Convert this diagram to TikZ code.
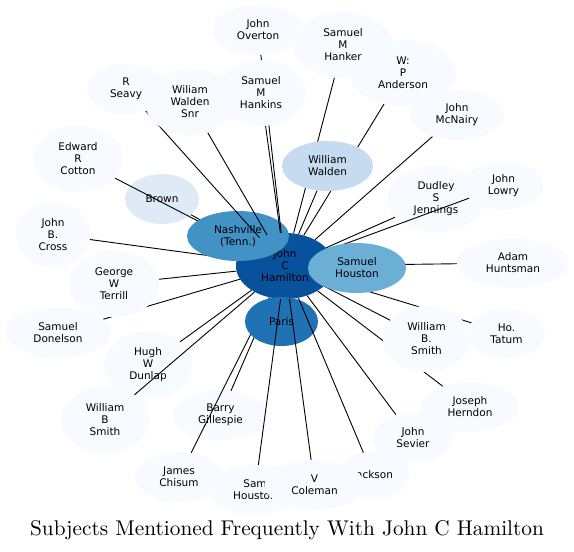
\documentclass[tikz,border=0pt]{standalone}
\usepackage{fontspec}
\usepackage{xcolor}
\usetikzlibrary{shapes.geometric}
\newfontfamily\nodefont{DejaVu Sans}
\newfontfamily\titlefont{lmroman10-regular.otf}
\definecolor{paleblue}{RGB}{247, 251, 255}
\definecolor{mistblue}{RGB}{222, 235, 247}
\definecolor{lightblue}{RGB}{198, 219, 239}
\definecolor{skyblue}{RGB}{107, 174, 214}
\definecolor{midblue}{RGB}{66, 146, 198}
\definecolor{strongblue}{RGB}{33, 113, 181}
\definecolor{deepblue}{RGB}{8, 81, 156}
\pgfdeclarelayer{front}
\pgfsetlayers{main,front}

\begin{document}
\begin{tikzpicture}[x=1pt, y=-1pt,
    subject/.style={ellipse, inner sep=0pt, fill=paleblue, align=center,
                    font=\nodefont\fontsize{10.5}{12}\selectfont},
    link/.style={line width=0.9pt}]
    \useasboundingbox (0,0) rectangle (574,552);

    % subjects drawn over the lines
    \begin{pgfonlayer}{front}
    \node[subject, minimum width=92pt, minimum height=50pt] (overton) at (258,30) {John\\Overton};
    \node[subject, minimum width=90pt, minimum height=66pt] (hankins) at (261,93) {Samuel\\M\\Hankins};
    \node[subject, minimum width=78pt, minimum height=50pt] (seavy) at (126,89) {R\\Seavy};
    \node[subject, minimum width=90pt, minimum height=66pt] (waldensnr) at (190,102) {Wiliam\\Walden\\Snr};
    \node[subject, minimum width=106pt, minimum height=66pt] (anderson) at (403,73) {W:\\P\\Anderson};
    \node[subject, minimum width=100pt, minimum height=66pt] (hanker) at (343,45) {Samuel\\M\\Hanker};
    \node[subject, minimum width=94pt, minimum height=50pt] (mcnairy) at (457,115) {John\\McNairy};
    \node[subject, fill=lightblue, minimum width=91pt, minimum height=50pt] (walden) at (327.5,166) {William\\Walden};
    \node[subject, minimum width=90pt, minimum height=66pt] (cotton) at (78,159) {Edward\\R\\Cotton};
    \node[subject, minimum width=74pt, minimum height=66pt] (cross) at (53,234.5) {John\\B.\\Cross};
    \node[subject, minimum width=90pt, minimum height=66pt] (terrill) at (114,284) {George\\W\\Terrill};
    \node[subject, minimum width=106pt, minimum height=50pt] (donelson) at (58,332.5) {Samuel\\Donelson};
    \node[subject, minimum width=88pt, minimum height=67pt] (wbsmithl) at (105,420) {William\\B\\Smith};
    \node[subject, minimum width=88pt, minimum height=50pt] (chisum) at (179,477) {James\\Chisum};
    \node[subject, minimum width=92pt, minimum height=50pt] (samhouston) at (255,490) {Sam\\Houston};
    \node[subject, minimum width=72pt, minimum height=47pt] (jackson) at (373,475.5) {Jackson};
    \node[subject, minimum width=100pt, minimum height=50pt] (vcoleman) at (314.5,485) {V\\Coleman};
    \node[subject, minimum width=80pt, minimum height=50pt] (sevier) at (413,437.5) {John\\Sevier};
    \node[subject, minimum width=98pt, minimum height=49pt] (herndon) at (470,407) {Joseph\\Herndon};
    \node[subject, minimum width=87pt, minimum height=66pt] (wbsmithr) at (426.5,339) {William\\B.\\Smith};
    \node[subject, minimum width=77pt, minimum height=49pt] (tatum) at (506.5,333.5) {Ho.\\Tatum};
    \node[subject, minimum width=112pt, minimum height=49pt] (huntsman) at (513,263) {Adam\\Huntsman};
    \node[subject, minimum width=80pt, minimum height=48pt] (lowry) at (503.5,185.5) {John\\Lowry};
    \node[subject, fill=skyblue, minimum width=98pt, minimum height=50pt] (houston) at (357,268) {Samuel\\Houston};
    \end{pgfonlayer}

    % centre and the subjects the lines cross
    \node[subject, fill=deepblue, minimum width=98pt, minimum height=66pt] (hamilton) at (285,266) {John\\C\\Hamilton};
    \node[subject, fill=mistblue, minimum width=74pt, minimum height=50pt] (brown) at (162,199) {Brown};
    \node[subject, minimum width=88pt, minimum height=67pt] (dunlap) at (148,365) {Hugh\\W\\Dunlap};
    \node[subject, minimum width=96pt, minimum height=49pt] (gillespie) at (220.5,415) {Barry\\Gillespie};
    \node[subject, minimum width=98pt, minimum height=66pt] (jennings) at (436,199) {Dudley\\S\\Jennings};

    \foreach \who in {cross,cotton,brown,gillespie,chisum,huntsman,tatum,herndon,hanker,anderson,
                      jennings,lowry,wbsmithl,dunlap,terrill,donelson,mcnairy,walden,wbsmithr,sevier}
        \draw[link] (\who) -- (hamilton);

    \node[subject, fill=midblue, minimum width=102pt, minimum height=50pt] (nashville) at (238,236) {Nashville\\(Tenn.)};
    \node[subject, fill=strongblue, minimum width=73pt, minimum height=49pt] (paris) at (281.5,321.5) {Paris};

    \foreach \who in {seavy,waldensnr,hankins,overton,samhouston,vcoleman,jackson}
        \draw[link] (\who) -- (hamilton);

    \node[anchor=base, font=\titlefont\fontsize{21.3}{25}\selectfont] (title) at (287,535.5)
        {Subjects Mentioned Frequently With John C Hamilton};
\end{tikzpicture}
\end{document}
